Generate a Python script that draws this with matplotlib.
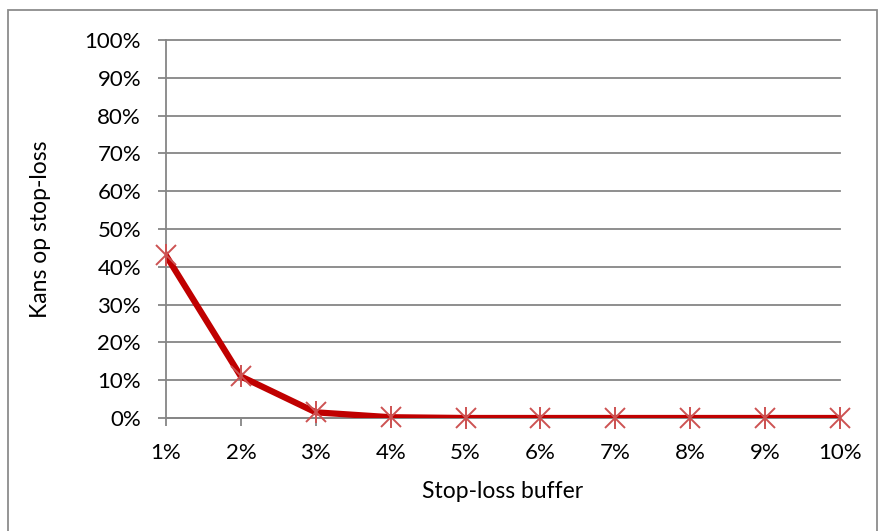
import matplotlib
matplotlib.use("Agg")
import matplotlib.pyplot as plt
from matplotlib.patches import Rectangle

categories = ["1%", "2%", "3%", "4%", "5%", "6%", "7%", "8%", "9%", "10%"]
values = [0.43, 0.11, 0.015, 0.002, 0.0, 0.0, 0.0, 0.0, 0.0, 0.0]
yticks = [i / 10 for i in range(11)]
ylabels = [f"{i * 10}%" for i in range(11)]

plt.rcParams['font.family'] = ['Lato', 'DejaVu Sans']
FS = 16

W, H = 880, 531
fig = plt.figure(figsize=(W / 100, H / 100), dpi=100)
fig.patches.append(Rectangle((8 / W, -0.1), (877 - 8) / W, 1.1 - 10 / H,
                             transform=fig.transFigure, fill=False,
                             edgecolor="#8c8c8c", linewidth=1.3))

left, right, top, bottom = 166, 840, 40, 418
ax = fig.add_axes([left / W, 1 - bottom / H, (right - left) / W, (bottom - top) / H])
x = list(range(len(categories)))
ax.set_xlim(0, len(categories) - 1)
ax.set_ylim(0, 1)

grid_c = "#868686"
for yv in yticks:
    ax.axhline(yv, color=grid_c, linewidth=1.3, zorder=1, clip_on=False)

ax.plot(x, values, color="#C00000", linewidth=4.5, zorder=3, solid_joinstyle="round")
ax.plot(x, values, linestyle="none", marker="x", markersize=14, markeredgewidth=1.4,
        color="#CD5252", zorder=4, clip_on=False)
ax.plot(x, values, linestyle="none", marker="|", markersize=16, markeredgewidth=1.4,
        color="#CD5252", zorder=4, clip_on=False)

for s in ["top", "right"]:
    ax.spines[s].set_visible(False)
ax.spines["left"].set_color(grid_c)
ax.spines["left"].set_linewidth(1.3)
ax.spines["bottom"].set_color(grid_c)
ax.spines["bottom"].set_linewidth(1.3)

ax.set_yticks(yticks)
ax.set_yticklabels(ylabels, fontsize=FS)
ax.set_xticks(x)
ax.set_xticklabels(categories, fontsize=FS)
ax.tick_params(axis="both", length=6, width=1.3, color=grid_c, direction="out")
ax.tick_params(axis="y", pad=12)
ax.tick_params(axis="x", pad=12)

ax.set_xlabel("Stop-loss buffer", fontsize=16.5, labelpad=13)
ax.set_ylabel("Kans op stop-loss", fontsize=16.5, labelpad=24)

fig.savefig("out.png", dpi=100)
